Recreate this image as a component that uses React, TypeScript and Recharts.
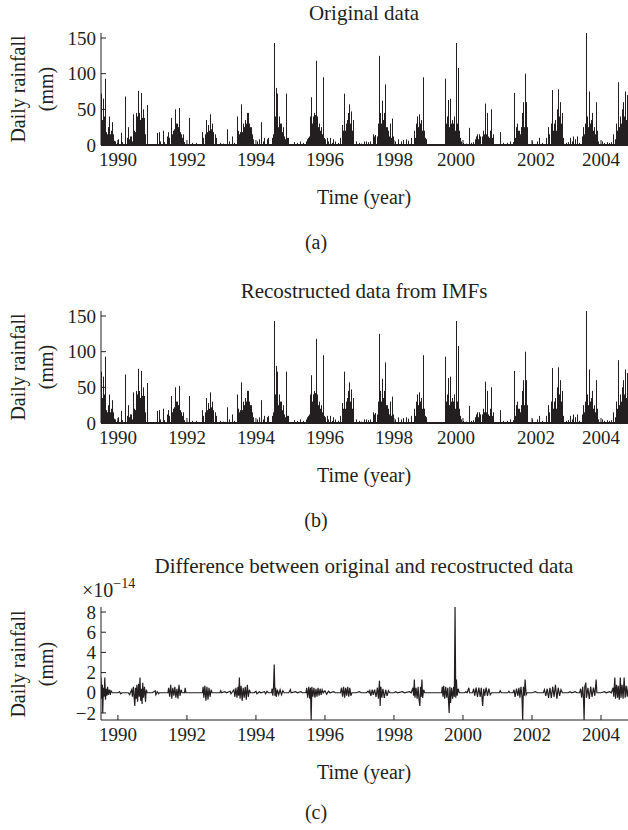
import React from "react";
import { ComposedChart, Bar, Line, XAxis, YAxis } from "recharts";

const INK = "#231f20";
const FONT = "'Liberation Serif', 'Times New Roman', serif";

// Daily rainfall on wet days: [decimal year, mm]
const rainfall: [number, number][] = [
  [1989.51, 72], [1989.53, 35], [1989.55, 30], [1989.57, 65], [1989.59, 20], [1989.61, 40], [1989.62, 93], [1989.64, 30],
  [1989.66, 18], [1989.68, 15], [1989.7, 25], [1989.72, 12], [1989.74, 40], [1989.76, 15], [1989.78, 10], [1989.8, 20],
  [1989.82, 32], [1989.84, 12], [1989.87, 15], [1989.9, 6], [1989.93, 5], [1989.96, 3], [1990.0, 8],
  [1990.08, 17], [1990.12, 4], [1990.22, 68], [1990.25, 10], [1990.28, 25], [1990.31, 8], [1990.34, 12], [1990.37, 12], [1990.4, 5],
  [1990.44, 43], [1990.46, 15], [1990.48, 20], [1990.5, 18], [1990.52, 45], [1990.54, 25], [1990.56, 40], [1990.57, 76],
  [1990.59, 30], [1990.61, 22], [1990.62, 45], [1990.64, 35], [1990.67, 73], [1990.69, 25], [1990.7, 38], [1990.72, 50],
  [1990.74, 20], [1990.76, 38], [1990.78, 15], [1990.8, 12], [1990.83, 56], [1990.85, 8],
  [1991.12, 17], [1991.18, 18], [1991.22, 5], [1991.3, 20], [1991.34, 4],
  [1991.41, 12], [1991.45, 18], [1991.48, 10], [1991.53, 38], [1991.56, 15], [1991.59, 20], [1991.62, 22], [1991.65, 50],
  [1991.67, 30], [1991.7, 30], [1991.72, 20], [1991.75, 25], [1991.78, 52], [1991.8, 18], [1991.82, 15], [1991.85, 10],
  [1991.89, 15], [1991.93, 4], [1992.07, 38], [1992.15, 3], [1992.25, 3],
  [1992.43, 18], [1992.47, 10], [1992.51, 15], [1992.55, 35], [1992.58, 18], [1992.61, 28], [1992.64, 20], [1992.67, 43],
  [1992.69, 22], [1992.72, 30], [1992.74, 15], [1992.77, 18], [1992.8, 15], [1992.83, 10], [1992.95, 3], [1993.05, 2],
  [1993.17, 22], [1993.22, 5], [1993.3, 12], [1993.36, 3],
  [1993.44, 40], [1993.46, 10], [1993.49, 20], [1993.51, 15], [1993.54, 18], [1993.57, 57], [1993.6, 18], [1993.63, 30],
  [1993.65, 25], [1993.68, 35], [1993.7, 30], [1993.73, 45], [1993.75, 38], [1993.78, 45], [1993.8, 30], [1993.83, 25],
  [1993.85, 20], [1993.87, 25], [1993.89, 15], [1993.92, 8], [1994.02, 5], [1994.08, 8], [1994.16, 32], [1994.2, 5],
  [1994.23, 10], [1994.31, 8], [1994.35, 10],
  [1994.47, 10], [1994.5, 15], [1994.53, 143], [1994.55, 40], [1994.57, 25], [1994.58, 80], [1994.6, 30], [1994.62, 72],
  [1994.64, 25], [1994.66, 40], [1994.68, 35], [1994.7, 30], [1994.72, 20], [1994.74, 30], [1994.76, 18], [1994.79, 25],
  [1994.82, 12], [1994.84, 8], [1994.87, 72], [1994.9, 10], [1994.94, 10], [1995.1, 4], [1995.18, 3], [1995.27, 5], [1995.35, 3],
  [1995.45, 5], [1995.49, 8], [1995.52, 10], [1995.55, 12], [1995.57, 40], [1995.59, 25], [1995.61, 67], [1995.63, 30],
  [1995.65, 40], [1995.68, 45], [1995.7, 35], [1995.72, 42], [1995.74, 118], [1995.76, 30], [1995.78, 40], [1995.8, 25],
  [1995.83, 30], [1995.85, 20], [1995.88, 25], [1995.91, 15], [1995.95, 95], [1995.97, 10], [1996.0, 8], [1996.05, 10],
  [1996.1, 5], [1996.15, 10], [1996.2, 3], [1996.24, 8], [1996.3, 5], [1996.38, 3], [1996.43, 10],
  [1996.5, 28], [1996.52, 15], [1996.53, 20], [1996.55, 35], [1996.56, 72], [1996.58, 20], [1996.6, 30], [1996.62, 15],
  [1996.63, 25], [1996.65, 35], [1996.68, 45], [1996.7, 57], [1996.72, 30], [1996.73, 25], [1996.75, 47], [1996.77, 20],
  [1996.8, 35], [1996.82, 10], [1996.9, 5], [1997.0, 3], [1997.05, 2], [1997.12, 5], [1997.19, 5], [1997.26, 4],
  [1997.3, 5], [1997.38, 15], [1997.42, 12], [1997.45, 14], [1997.5, 12],
  [1997.55, 30], [1997.57, 125], [1997.59, 25], [1997.61, 45], [1997.63, 30], [1997.65, 62], [1997.67, 35], [1997.7, 45],
  [1997.72, 30], [1997.75, 85], [1997.77, 25], [1997.79, 25], [1997.81, 15], [1997.84, 20], [1997.86, 12], [1997.88, 30],
  [1997.9, 10], [1997.93, 37], [1997.95, 12], [1997.98, 12], [1998.03, 5], [1998.13, 8], [1998.2, 5], [1998.27, 7],
  [1998.34, 8], [1998.42, 6], [1998.48, 10],
  [1998.58, 20], [1998.61, 10], [1998.64, 30], [1998.66, 20], [1998.68, 40], [1998.7, 25], [1998.72, 43], [1998.75, 30],
  [1998.77, 35], [1998.79, 25], [1998.81, 20], [1998.83, 95], [1998.85, 15], [1998.87, 20], [1998.9, 10], [1998.93, 8],
  [1999.47, 93], [1999.49, 20], [1999.51, 30], [1999.53, 40], [1999.55, 20], [1999.56, 63], [1999.58, 35], [1999.6, 25],
  [1999.62, 65], [1999.64, 30], [1999.66, 20], [1999.68, 35], [1999.7, 25], [1999.72, 30], [1999.75, 40], [1999.77, 20],
  [1999.8, 143], [1999.82, 30], [1999.84, 25], [1999.86, 35], [1999.87, 108], [1999.89, 20], [1999.91, 10], [1999.94, 5],
  [2000.0, 3], [2000.1, 2], [2000.17, 24], [2000.24, 3],
  [2000.3, 4], [2000.34, 8], [2000.37, 12], [2000.4, 15], [2000.44, 8], [2000.47, 15], [2000.5, 12], [2000.54, 12],
  [2000.59, 20], [2000.62, 15], [2000.64, 58], [2000.66, 15], [2000.69, 45], [2000.71, 20], [2000.73, 12], [2000.76, 10],
  [2000.78, 20], [2000.8, 50], [2000.83, 10], [2000.86, 15], [2001.07, 18], [2001.15, 3], [2001.27, 3], [2001.36, 5], [2001.46, 4],
  [2001.49, 73], [2001.51, 10], [2001.53, 25], [2001.56, 30], [2001.58, 15], [2001.6, 20], [2001.62, 20], [2001.64, 15],
  [2001.67, 25], [2001.7, 45], [2001.72, 20], [2001.75, 60], [2001.77, 25], [2001.8, 100], [2001.83, 60], [2001.85, 25],
  [2001.87, 10], [2001.99, 5], [2002.14, 5], [2002.21, 10], [2002.3, 3],
  [2002.42, 10], [2002.47, 25], [2002.5, 15], [2002.54, 30], [2002.56, 15], [2002.58, 77], [2002.6, 20], [2002.63, 30],
  [2002.65, 25], [2002.67, 35], [2002.7, 20], [2002.72, 50], [2002.74, 40], [2002.76, 78], [2002.78, 40], [2002.81, 60],
  [2002.83, 30], [2002.86, 45], [2002.88, 20], [2002.91, 10], [2003.0, 3], [2003.05, 4], [2003.1, 10], [2003.15, 5],
  [2003.2, 12], [2003.25, 8], [2003.3, 12], [2003.35, 3],
  [2003.44, 12], [2003.47, 8], [2003.49, 25], [2003.51, 15], [2003.54, 30], [2003.56, 157], [2003.58, 30], [2003.6, 40],
  [2003.62, 25], [2003.64, 20], [2003.66, 75], [2003.68, 30], [2003.7, 35], [2003.72, 25], [2003.75, 45], [2003.77, 20],
  [2003.8, 25], [2003.82, 15], [2003.85, 60], [2003.87, 15], [2003.89, 20], [2003.92, 5], [2004.02, 5], [2004.1, 3],
  [2004.16, 4], [2004.22, 3], [2004.28, 4],
  [2004.36, 15], [2004.4, 8], [2004.43, 30], [2004.46, 20], [2004.48, 15], [2004.5, 88], [2004.52, 25], [2004.55, 40],
  [2004.57, 30], [2004.6, 50], [2004.62, 35], [2004.65, 60], [2004.67, 40], [2004.7, 75], [2004.72, 35], [2004.74, 70],
  [2004.76, 30], [2004.79, 40], [2004.81, 25], [2004.83, 20],
];

// Original minus reconstructed, in units of 1e-14 mm: [decimal year, value]
const difference: [number, number][] = [
  [1989.51, 1.5], [1989.53, -0.6], [1989.55, 0.8], [1989.56, -2.0], [1989.58, 0.5], [1989.6, -0.4], [1989.62, 1.5],
  [1989.64, -0.7], [1989.66, 0.4], [1989.68, -0.3], [1989.7, 0.6], [1989.72, -0.2], [1989.75, 0.3], [1989.78, -0.2],
  [1989.8, 0.2], [1989.84, 0], [1990.0, 0], [1990.05, 0.1], [1990.08, -0.1], [1990.12, 0], [1990.3, 0], [1990.34, -0.2], [1990.36, 0],
  [1990.4, 0.3], [1990.42, -0.4], [1990.45, 0.6], [1990.47, -0.5], [1990.49, -1.3], [1990.51, 0.5], [1990.53, -0.6],
  [1990.55, 0.8], [1990.57, -0.9], [1990.6, 0.9], [1990.62, -0.4], [1990.64, 1.5], [1990.66, -0.8], [1990.68, 0.4],
  [1990.7, -1.1], [1990.72, 1.0], [1990.74, -0.5], [1990.77, 0.6], [1990.8, -0.9], [1990.82, 0.3], [1990.85, 0],
  [1991.0, 0], [1991.08, 0.2], [1991.1, -0.2], [1991.14, 0.1], [1991.18, -0.1], [1991.2, 0],
  [1991.45, 0], [1991.47, 0.5], [1991.5, -0.4], [1991.53, 0.8], [1991.56, -0.6], [1991.59, 0.5], [1991.62, -0.3],
  [1991.65, 0.6], [1991.68, -0.5], [1991.71, 0.4], [1991.74, -0.6], [1991.77, 0.8], [1991.8, -0.3], [1991.83, 0.3],
  [1991.86, 0], [1991.93, 0], [1991.95, 0.5], [1991.97, 0],
  [1992.45, 0], [1992.47, 0.6], [1992.49, -0.5], [1992.52, 0.7], [1992.55, -0.8], [1992.58, 0.6], [1992.61, -0.7],
  [1992.64, 0.5], [1992.67, -0.4], [1992.7, 0.3], [1992.73, 0], [1992.95, 0], [1992.98, 0.2], [1993.0, 0], [1993.1, 0.1],
  [1993.15, 0], [1993.25, 0.15], [1993.28, -0.1], [1993.3, 0],
  [1993.36, 0.3], [1993.39, -0.4], [1993.42, 0.5], [1993.45, -0.5], [1993.48, 0.6], [1993.5, -0.3], [1993.52, 1.5],
  [1993.54, -0.6], [1993.57, 0.7], [1993.6, -0.8], [1993.63, 0.5], [1993.66, -0.5], [1993.69, 0.6], [1993.72, -0.7],
  [1993.75, 0.8], [1993.78, -0.4], [1993.81, 0.3], [1993.84, 0], [1993.95, 0], [1994.0, 0.15], [1994.03, -0.1],
  [1994.1, 0.1], [1994.14, 0], [1994.25, 0.1], [1994.28, -0.1], [1994.32, 0.15], [1994.36, 0],
  [1994.45, 0], [1994.47, 0.4], [1994.49, -0.3], [1994.51, 0.6], [1994.53, 2.8], [1994.55, -0.3], [1994.57, 0.5],
  [1994.59, -0.4], [1994.62, 0.3], [1994.66, -0.2], [1994.7, 0.3], [1994.74, -0.2], [1994.78, 0.2], [1994.82, 0],
  [1994.95, 0], [1995.0, 0.3], [1995.02, 0], [1995.15, 0.1], [1995.2, 0], [1995.3, 0.1], [1995.35, 0],
  [1995.45, 0], [1995.47, 0.5], [1995.5, -0.5], [1995.53, 0.6], [1995.56, -0.6], [1995.58, 0.5], [1995.6, -2.7],
  [1995.62, 0.6], [1995.65, -0.4], [1995.68, 0.5], [1995.71, -0.5], [1995.74, 0.4], [1995.77, -0.4], [1995.8, 0.5],
  [1995.83, -0.3], [1995.86, 0.4], [1995.89, -0.2], [1995.92, 0.3], [1995.95, 0], [1996.0, 0.2], [1996.05, -0.15],
  [1996.1, 0.15], [1996.15, 0], [1996.25, 0.1], [1996.3, 0],
  [1996.45, 0], [1996.48, 0.5], [1996.51, -0.4], [1996.54, 0.6], [1996.57, -0.5], [1996.6, 0.5], [1996.63, -0.3],
  [1996.66, 0.6], [1996.69, -0.4], [1996.72, 0.5], [1996.75, -0.3], [1996.78, 0], [1996.9, 0], [1997.0, 0.1],
  [1997.05, 0], [1997.2, 0], [1997.25, 0.15], [1997.28, 0],
  [1997.3, 0.2], [1997.33, -0.3], [1997.37, 0.3], [1997.4, -0.2], [1997.44, 0.3], [1997.48, -0.4], [1997.52, 0.5],
  [1997.55, -0.6], [1997.58, 1.2], [1997.6, -1.3], [1997.62, 0.6], [1997.65, -0.5], [1997.68, 0.4], [1997.72, -0.5],
  [1997.76, 0.3], [1997.8, -0.3], [1997.84, 0.2], [1997.88, 0], [1998.0, 0], [1998.05, 0.1], [1998.1, 0],
  [1998.25, 0.1], [1998.3, 0], [1998.45, 0.1], [1998.5, 0],
  [1998.55, 0.5], [1998.57, -0.3], [1998.59, 1.3], [1998.61, -0.5], [1998.64, 0.5], [1998.67, -0.6], [1998.7, 0.6],
  [1998.72, -0.5], [1998.75, -1.3], [1998.77, 0.6], [1998.79, -0.4], [1998.81, 1.3], [1998.83, -0.5], [1998.86, 0.3],
  [1998.89, 0],
  [1999.38, 0], [1999.4, 0.6], [1999.42, -0.4], [1999.44, 0.7], [1999.47, -0.6], [1999.5, 0.6], [1999.53, -0.5],
  [1999.56, 0.5], [1999.58, -0.8], [1999.6, -2.0], [1999.62, 0.6], [1999.64, -1.0], [1999.67, 0.5], [1999.7, -0.6],
  [1999.73, 0.6], [1999.75, -0.4], [1999.77, 8.5], [1999.79, -0.5], [1999.81, 1.3], [1999.83, -0.3], [1999.86, 0.4],
  [1999.89, 0], [2000.05, 0], [2000.08, 0.1], [2000.12, 0], [2000.17, 0.5], [2000.19, 0],
  [2000.28, 0], [2000.31, 0.4], [2000.34, -0.3], [2000.38, 0.5], [2000.42, -0.4], [2000.46, 0.5], [2000.5, -0.4],
  [2000.53, 0.5], [2000.57, -1.3], [2000.6, 0.4], [2000.63, -0.3], [2000.67, 0.5], [2000.71, -0.3], [2000.75, 0.4],
  [2000.79, -0.2], [2000.83, 0], [2001.05, 0], [2001.08, 0.2], [2001.11, 0], [2001.3, 0], [2001.33, 0.15], [2001.36, 0],
  [2001.45, 0], [2001.48, 0.3], [2001.51, -0.4], [2001.55, 0.4], [2001.59, -0.3], [2001.62, 0.5], [2001.65, -0.5],
  [2001.68, 0.6], [2001.71, -0.4], [2001.73, -2.7], [2001.75, 0.6], [2001.78, -0.3], [2001.8, 1.3], [2001.83, -0.2],
  [2001.86, 0], [2002.0, 0], [2002.1, 0.1], [2002.15, 0],
  [2002.33, 0], [2002.36, 0.3], [2002.4, -0.3], [2002.44, 0.4], [2002.48, -0.5], [2002.52, 0.5], [2002.56, -0.5],
  [2002.6, 0.6], [2002.64, -0.4], [2002.68, 0.8], [2002.72, -0.6], [2002.76, 0.5], [2002.8, -0.3], [2002.84, 0.3],
  [2002.88, 0], [2003.05, 0], [2003.1, 0.1], [2003.15, 0], [2003.25, 0.1], [2003.3, 0],
  [2003.38, 0], [2003.41, 0.4], [2003.44, -0.5], [2003.47, 0.6], [2003.49, -0.4], [2003.51, -2.7], [2003.53, 0.6],
  [2003.56, 1.0], [2003.58, -0.5], [2003.62, 0.5], [2003.66, -0.6], [2003.7, 0.6], [2003.74, -0.4], [2003.78, 0.5],
  [2003.82, -0.3], [2003.86, 1.3], [2003.88, 0], [2004.0, 0], [2004.1, 0.1], [2004.15, 0], [2004.25, 0.1], [2004.3, 0],
  [2004.35, 0.5], [2004.37, -0.4], [2004.4, 1.5], [2004.42, -0.6], [2004.45, 0.8], [2004.48, -0.5], [2004.5, 0.7],
  [2004.53, -0.7], [2004.56, 1.5], [2004.58, -0.5], [2004.61, 0.8], [2004.64, -0.6], [2004.67, 1.5], [2004.7, -0.5],
  [2004.73, 0.7], [2004.76, -0.4], [2004.8, 0.8], [2004.84, -0.3],
];

const yearTicks = [1990, 1992, 1994, 1996, 1998, 2000, 2002, 2004];
const rainTicks = [0, 50, 100, 150];
const diffTicks = [-2, 0, 2, 4, 6, 8];

const timeDomain: [number, number] = [1989.51, 2004.84];
const rainDomain: [number, number] = [0, 157];
const diffDomain: [number, number] = [-2.7, 8.5];

const rainRows = rainfall.map(([t, v]) => ({ t, v }));
const diffRows = difference.map(([t, v]) => ({ t, v }));

const TICK_LEN = 5;
const PLOT_LEFT = 101;
const CHART_W = 640;
const RIGHT_PAD = 10;
const TICK_FONT = 19;
const LABEL_FONT = 20;

const fmt = (v: number) => (v < 0 ? `\u2212${-v}` : `${v}`);

const Stem = (p: any) => {
  const cx = Math.round(p.x + (p.width || 0) / 2) + 0.5;
  if (!isFinite(cx) || !p.height) return <g />;
  return <line x1={cx} x2={cx} y1={p.y} y2={p.y + p.height} stroke={INK} strokeWidth={1} />;
};

// year labels under the rainfall panels sit slightly off their ticks
const shiftedYears: Record<number, number> = { 2000: -7, 2002: 4 };

const makeBottomTick = (shift: Record<number, number>) => (p: any) => (
  <g>
    <line x1={p.x} x2={p.x} y1={p.y} y2={p.y - TICK_LEN} stroke={INK} />
    <text
      x={p.x + (shift[p.payload.value] || 0)}
      y={p.y + 8}
      dy="0.71em"
      textAnchor="middle"
      fill={INK}
      fontSize={TICK_FONT}
      fontFamily={FONT}
    >
      {p.payload.value}
    </text>
  </g>
);
const topTick = (p: any) => <line x1={p.x} x2={p.x} y1={p.y} y2={p.y + TICK_LEN} stroke={INK} />;
const leftTick = (p: any) => (
  <g>
    <line x1={p.x} x2={p.x + TICK_LEN} y1={p.y} y2={p.y} stroke={INK} />
    <text x={p.x - 5} y={p.y} dy="0.35em" textAnchor="end" fill={INK} fontSize={TICK_FONT} fontFamily={FONT}>
      {fmt(p.payload.value)}
    </text>
  </g>
);
const rightTick = (p: any) => <line x1={p.x} x2={p.x - TICK_LEN} y1={p.y} y2={p.y} stroke={INK} />;

type PanelProps = {
  top: number;
  bottom: number;
  yDomain: [number, number];
  yTicks: number[];
  rows: { t: number; v: number }[];
  labelShift?: Record<number, number>;
  baseWidth?: number;
  children: React.ReactNode;
};

function Panel({ top, bottom, yDomain, yTicks, rows, labelShift = {}, baseWidth = 1, children }: PanelProps) {
  const padTop = 10;
  const axisH = 34;
  const h = bottom - top + padTop + axisH;
  const line = { stroke: INK, strokeWidth: 1 };
  return (
    <div style={{ position: "absolute", left: 0, top: top - padTop }}>
      <ComposedChart
        width={CHART_W}
        height={h}
        data={rows}
        margin={{ top: padTop, right: RIGHT_PAD, bottom: 0, left: 0 }}
      >
        <XAxis
          xAxisId="b"
          dataKey="t"
          type="number"
          domain={timeDomain}
          ticks={yearTicks}
          allowDataOverflow
          interval={0}
          height={axisH}
          tickSize={0}
          tickMargin={0}
          tickLine={false}
          axisLine={{ stroke: INK, strokeWidth: baseWidth }}
          tick={makeBottomTick(labelShift)}
        />
        <XAxis
          xAxisId="t"
          dataKey="t"
          type="number"
          orientation="top"
          domain={timeDomain}
          ticks={yearTicks}
          allowDataOverflow
          interval={0}
          height={0}
          tickSize={0}
          tickMargin={0}
          tickLine={false}
          axisLine={line}
          tick={topTick}
        />
        <YAxis
          yAxisId="l"
          type="number"
          domain={yDomain}
          ticks={yTicks}
          allowDataOverflow
          interval={0}
          width={PLOT_LEFT}
          tickSize={0}
          tickMargin={0}
          tickLine={false}
          axisLine={line}
          tick={leftTick}
        />
        <YAxis
          yAxisId="r"
          orientation="right"
          type="number"
          domain={yDomain}
          ticks={yTicks}
          allowDataOverflow
          interval={0}
          width={0}
          tickSize={0}
          tickMargin={0}
          tickLine={false}
          axisLine={line}
          tick={rightTick}
        />
        {children}
      </ComposedChart>
    </div>
  );
}

const Text = ({ x, y, size = LABEL_FONT, children, rotate = false }: any) => (
  <div
    style={{
      position: "absolute",
      left: x,
      top: y,
      transform: `translate(-50%, -50%)${rotate ? " rotate(-90deg)" : ""}`,
      whiteSpace: "nowrap",
      fontSize: size,
      fontFamily: FONT,
      color: INK,
      lineHeight: 1,
    }}
  >
    {children}
  </div>
);

const TITLE_X = 364;
const CAPTION_X = 316;

function YLabel({ top, bottom }: { top: number; bottom: number }) {
  const mid = (top + bottom) / 2;
  return (
    <>
      <Text x={18} y={mid} rotate>
        Daily rainfall
      </Text>
      <Text x={46} y={mid} rotate>
        (mm)
      </Text>
    </>
  );
}

const A = { top: 33, bottom: 145 };
const B = { top: 311, bottom: 423 };
const C = { top: 607, bottom: 720 };

export default function App() {
  return (
    <div
      style={{
        position: "absolute",
        left: 0,
        top: 0,
        width: 628,
        height: 830,
        overflow: "hidden",
        background: "#fff",
        fontFamily: FONT,
      }}
    >
      {/* (a) original series */}
      <Text x={TITLE_X} y={A.top - 20} size={21}>Original data</Text>
      <Panel
        top={A.top}
        bottom={A.bottom}
        yDomain={rainDomain}
        yTicks={rainTicks}
        rows={rainRows}
        labelShift={shiftedYears}
        baseWidth={2}
      >
        <Bar xAxisId="b" yAxisId="l" dataKey="v" barSize={1} fill={INK} shape={Stem} isAnimationActive={false} />
      </Panel>
      <YLabel {...A} />
      <Text x={TITLE_X} y={A.bottom + 52}>Time (year)</Text>
      <Text x={CAPTION_X} y={A.bottom + 97}>(a)</Text>

      {/* (b) sum of the IMFs */}
      <Text x={TITLE_X} y={B.top - 20} size={21}>Recostructed data from IMFs</Text>
      <Panel
        top={B.top}
        bottom={B.bottom}
        yDomain={rainDomain}
        yTicks={rainTicks}
        rows={rainRows}
        labelShift={shiftedYears}
        baseWidth={2}
      >
        <Bar xAxisId="b" yAxisId="l" dataKey="v" barSize={1} fill={INK} shape={Stem} isAnimationActive={false} />
      </Panel>
      <YLabel {...B} />
      <Text x={TITLE_X} y={B.bottom + 52}>Time (year)</Text>
      <Text x={CAPTION_X} y={B.bottom + 97}>(b)</Text>

      {/* (c) residual between the two */}
      <Text x={TITLE_X} y={C.top - 41} size={21}>Difference between original and recostructed data</Text>
      <div
        style={{
          position: "absolute",
          left: 82,
          top: C.top - 29,
          fontSize: LABEL_FONT,
          fontFamily: FONT,
          color: INK,
          lineHeight: 1,
          whiteSpace: "nowrap",
        }}
      >
        ×10<sup style={{ fontSize: 14, position: "relative", top: -1 }}>−14</sup>
      </div>
      <Panel top={C.top} bottom={C.bottom} yDomain={diffDomain} yTicks={diffTicks} rows={diffRows}>
        <Line
          xAxisId="b"
          yAxisId="l"
          type="linear"
          dataKey="v"
          stroke={INK}
          strokeWidth={1.2}
          dot={false}
          isAnimationActive={false}
        />
      </Panel>
      <YLabel {...C} />
      <Text x={TITLE_X} y={C.bottom + 52}>Time (year)</Text>
      <Text x={CAPTION_X} y={C.bottom + 92}>(c)</Text>
    </div>
  );
}
